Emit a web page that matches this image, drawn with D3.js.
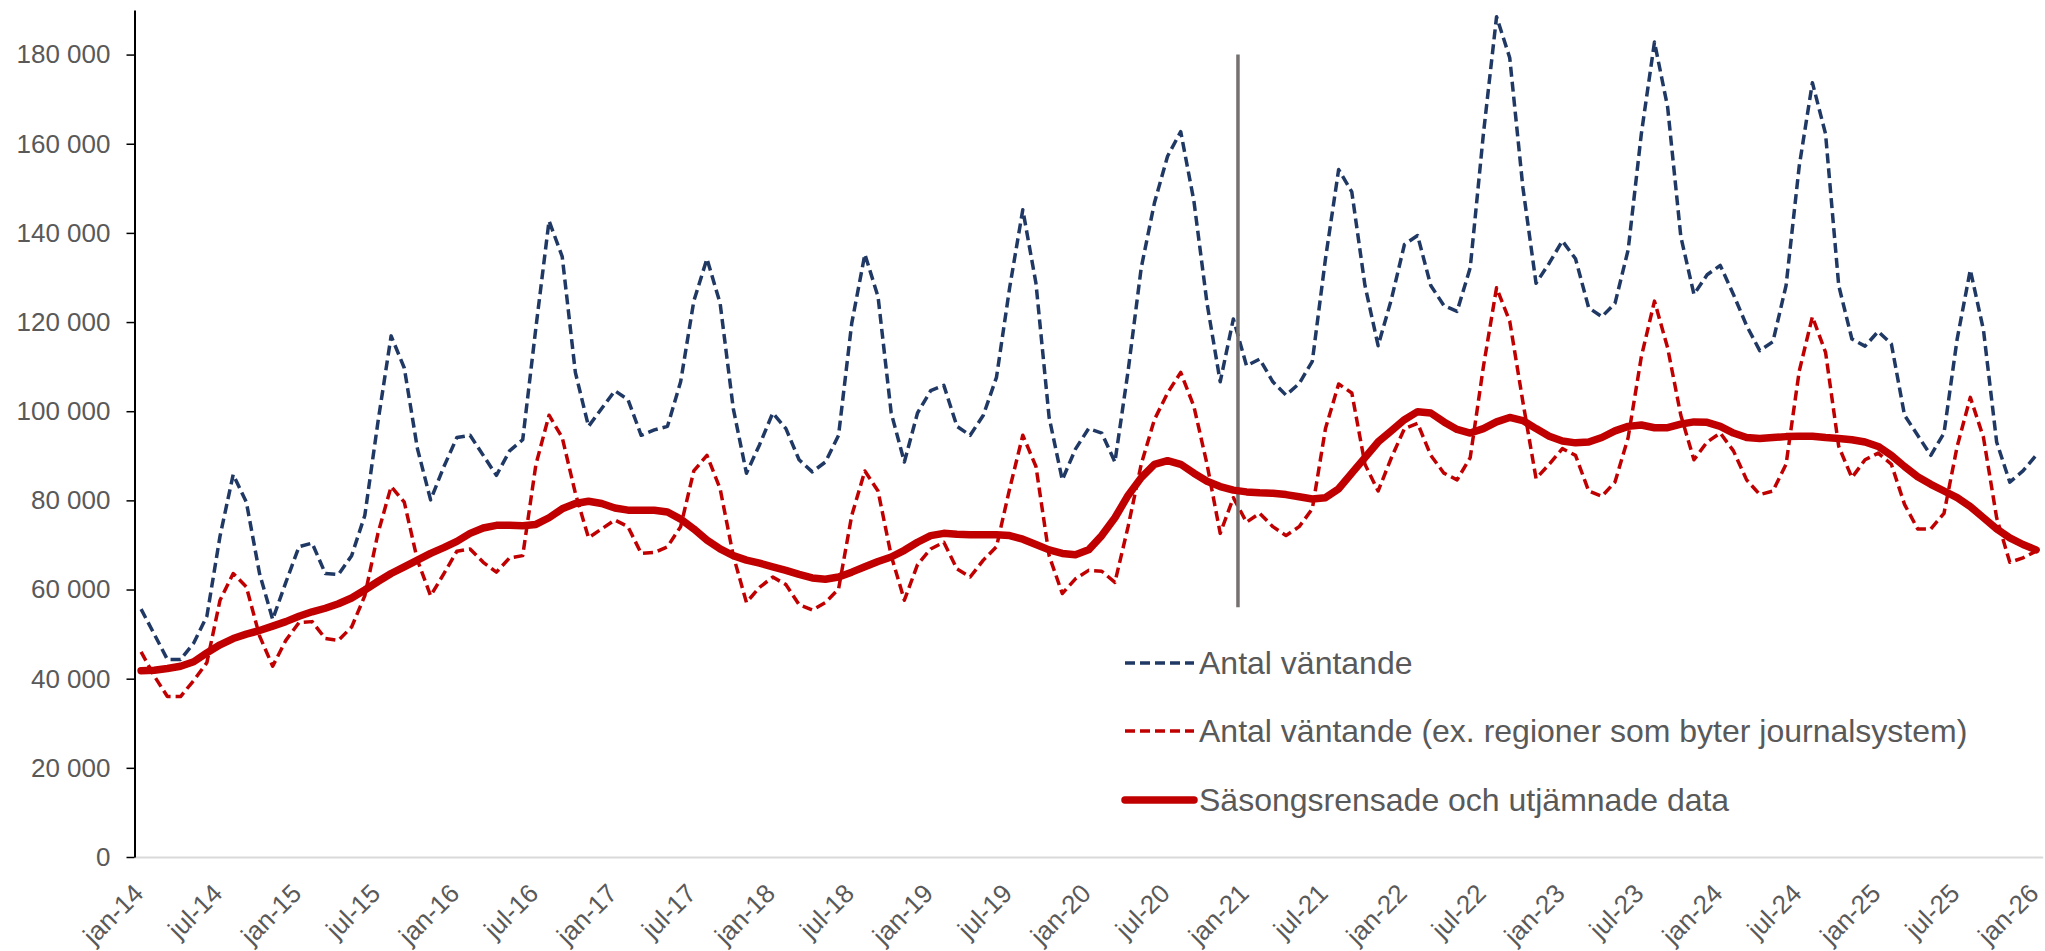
<!DOCTYPE html>
<html>
<head>
<meta charset="utf-8">
<script src="https://cdn.jsdelivr.net/npm/d3@7"></script>
<style>
  html, body { margin: 0; padding: 0; background: #ffffff; }
  svg { display: block; }
  text { font-family: "Liberation Sans", Arial, sans-serif; fill: #595959; }
</style>
</head>
<body>
<svg id="chart" width="2045" height="951"></svg>
<script>
// ---------- DATA ----------
const monthNames = ["jan","feb","mar","apr","maj","jun","jul","aug","sep","okt","nov","dec"];
const years = ["14","15","16","17","18","19","20","21","22","23","24","25","26"];

// Antal väntande (thousands)
const antalVantande = [
  55.6, 50.0, 44.3, 44.3, 48.0, 54.0, 72.0, 85.8, 79.6, 63.6, 53.3, 61.6,
  69.6, 70.4, 63.6, 63.4, 67.6, 76.6, 97.6, 116.9, 109.7, 91.6, 80.1, 87.5,
  94.1, 94.6, 90.1, 85.6, 91.1, 93.6, 118.7, 142.7, 134.7, 108.7, 96.6, 100.6,
  104.6, 102.6, 94.6, 95.8, 96.6, 106.6, 124.7, 134.2, 124.2, 100.6, 86.1, 92.5,
  99.6, 96.1, 89.1, 86.4, 88.6, 94.6, 119.7, 135.2, 125.7, 99.6, 88.6, 99.6,
  104.6, 105.8, 96.6, 94.6, 99.1, 107.6, 127.7, 145.2, 128.7, 98.6, 84.6, 91.5,
  96.1, 95.1, 88.6, 109.0, 132.2, 146.7, 157.2, 162.7, 147.2, 124.2, 106.6, 120.7,
  110.2, 111.7, 106.6, 103.6, 106.2, 111.2, 134.2, 154.2, 149.2, 128.2, 114.7, 125.0,
  137.4, 139.4, 128.2, 123.7, 122.4, 132.2, 162.2, 188.5, 179.3, 150.2, 128.7, 133.2,
  138.2, 134.2, 123.2, 121.2, 124.2, 136.2, 162.2, 182.8, 168.2, 139.2, 126.2, 130.6,
  132.7, 126.2, 119.2, 113.6, 115.6, 128.2, 155.0, 173.7, 162.2, 128.2, 116.2, 114.6,
  117.9, 115.1, 99.1, 94.6, 90.1, 95.1, 116.2, 131.7, 118.2, 93.1, 84.1, 86.6,
  90.1
];

// Antal väntande (ex. regioner som byter journalsystem) (thousands)
const antalExRegioner = [
  46.0, 40.6, 36.0, 36.0, 39.6, 43.6, 57.6, 63.6, 60.6, 49.6, 42.8, 48.6,
  52.6, 52.8, 49.0, 48.6, 51.6, 58.6, 72.6, 83.1, 79.6, 66.6, 58.6, 63.5,
  68.6, 69.1, 66.1, 63.9, 67.1, 67.6, 88.0, 99.1, 94.1, 81.6, 71.6, 73.6,
  75.6, 74.1, 68.1, 68.3, 69.6, 74.1, 86.6, 90.1, 82.6, 67.6, 57.1, 60.5,
  62.8, 61.1, 56.6, 55.4, 57.1, 60.1, 76.6, 86.6, 82.1, 67.6, 57.6, 65.6,
  69.1, 70.6, 64.6, 62.8, 66.6, 69.6, 82.6, 94.6, 87.6, 67.6, 59.1, 62.4,
  64.3, 64.1, 61.6, 74.1, 88.1, 98.1, 104.1, 108.7, 101.1, 88.1, 72.6, 80.6,
  75.1, 77.1, 74.1, 72.1, 74.1, 78.1, 96.1, 106.1, 104.1, 88.1, 82.1, 89.5,
  96.1, 97.3, 90.1, 86.1, 84.6, 89.6, 110.0, 127.7, 120.2, 102.1, 84.9, 88.1,
  91.6, 90.1, 82.1, 80.9, 84.1, 94.1, 112.2, 124.7, 114.2, 99.1, 89.1, 93.1,
  95.1, 91.1, 84.6, 81.3, 82.1, 88.1, 109.0, 121.2, 113.2, 92.1, 85.1, 89.1,
  90.6, 88.1, 79.1, 73.6, 73.6, 77.1, 92.1, 103.1, 94.1, 76.1, 66.1, 67.1,
  68.6
];

// Säsongsrensade och utjämnade data (thousands)
const sasongsrensade = [
  41.8, 41.9, 42.3, 42.8, 43.8, 45.8, 47.6, 49.0, 50.0, 50.8, 51.8, 52.8,
  54.0, 55.0, 55.8, 56.8, 58.1, 59.9, 61.8, 63.6, 65.1, 66.6, 68.1, 69.4,
  70.8, 72.6, 73.8, 74.4, 74.4, 74.3, 74.6, 76.1, 78.1, 79.3, 79.8, 79.3,
  78.3, 77.8, 77.8, 77.8, 77.4, 75.8, 73.6, 71.1, 69.1, 67.6, 66.6, 65.9,
  65.1, 64.3, 63.4, 62.6, 62.3, 62.8, 63.9, 65.1, 66.3, 67.3, 68.8, 70.6,
  72.1, 72.6, 72.4, 72.3, 72.3, 72.3, 72.1, 71.3, 70.1, 68.9, 68.1, 67.8,
  68.9, 72.1, 76.1, 81.1, 85.1, 88.1, 88.9, 88.1, 86.1, 84.3, 83.1, 82.3,
  81.9, 81.7, 81.6, 81.3, 80.8, 80.3, 80.6, 82.6, 86.1, 89.6, 93.1, 95.6,
  98.1, 99.9, 99.6, 97.6, 95.9, 95.1, 96.1, 97.6, 98.6, 97.9, 96.1, 94.4,
  93.3, 92.9, 93.1, 94.1, 95.6, 96.6, 96.9, 96.3, 96.3, 97.1, 97.6, 97.5,
  96.6, 95.1, 94.1, 93.9, 94.1, 94.3, 94.4, 94.4, 94.1, 93.9, 93.6, 93.1,
  92.1, 90.1, 87.6, 85.3, 83.6, 82.1, 80.6, 78.6, 76.1, 73.6, 71.6, 70.1,
  68.9
];

const yTicks = [0, 20000, 40000, 60000, 80000, 100000, 120000, 140000, 160000, 180000];
const yMax = 190000;

// Vertical marker (between dec-20 and jan-21)
const markerMonthIndex = 83.35;
const markerRange = [56000, 180000];

const legendLabels = [
  "Antal väntande",
  "Antal väntande (ex. regioner som byter journalsystem)",
  "Säsongsrensade och utjämnade data"
];

// ---------- BUILD ----------
const categories = [];
years.forEach(y => monthNames.forEach(m => categories.push(m + "-" + y)));
categories.length = antalVantande.length; // jan-14 .. jan-26
const tickLabels = categories.filter((c, i) => i % 6 === 0);

const toRows = arr => arr.map((v, i) => ({ cat: categories[i], idx: i, value: v * 1000 }));
const seriesBlue = toRows(antalVantande);
const seriesRedDash = toRows(antalExRegioner);
const seriesSmooth = toRows(sasongsrensade);

const svg = d3.select("#chart");

const plotLeft = 134.5, plotRight = 2042.7, plotTop = 10, plotBottom = 857;

const x = d3.scalePoint().domain(categories).range([plotLeft, plotRight]).padding(0.5);
const y = d3.scaleLinear().domain([0, yMax]).range([plotBottom, plotTop]);
const xIdx = d3.scaleLinear().domain([0, categories.length - 1])
  .range([x(categories[0]), x(categories[categories.length - 1])]);

const loc = d3.formatLocale({ decimal: ",", thousands: " ", grouping: [3], currency: ["", " kr"] });
const fmt = loc.format(",d");

// X axis (light gray line)
const xAxisG = svg.append("g").attr("transform", `translate(0,${plotBottom})`)
  .call(d3.axisBottom(x).tickValues(tickLabels).tickSize(0).tickFormat(() => ""));
xAxisG.select(".domain").attr("stroke", "#d9d9d9").attr("stroke-width", 2);

// X tick labels rotated
svg.append("g").selectAll("text").data(tickLabels).join("text")
  .attr("transform", d => `translate(${x(d) + 4},${plotBottom + 38}) rotate(-45)`)
  .attr("text-anchor", "end")
  .style("font-size", "26px")
  .text(d => d);

// Y axis
const yAxisG = svg.append("g").attr("transform", `translate(${plotLeft},0)`)
  .call(d3.axisLeft(y).tickValues(yTicks).tickSize(8).tickPadding(16).tickFormat(fmt).tickSizeOuter(0));
yAxisG.select(".domain").attr("stroke", "#000").attr("stroke-width", 2);
yAxisG.selectAll(".tick line").attr("stroke", "#000").attr("stroke-width", 1.5);
yAxisG.selectAll(".tick text").style("font-size", "26px").attr("fill", "#595959")
  .style("font-family", "'Liberation Sans', Arial, sans-serif");

// Lines
const line = d3.line().x(d => x(d.cat)).y(d => y(d.value));

svg.append("path").datum(seriesBlue)
  .attr("fill", "none").attr("stroke", "#1f3864").attr("stroke-width", 3.5)
  .attr("stroke-dasharray", "10,5").attr("stroke-linejoin", "round")
  .attr("d", line);

svg.append("path").datum(seriesRedDash)
  .attr("fill", "none").attr("stroke", "#c00000").attr("stroke-width", 3.5)
  .attr("stroke-dasharray", "10,5").attr("stroke-linejoin", "round")
  .attr("d", line);

// Vertical marker line
svg.append("line")
  .attr("x1", xIdx(markerMonthIndex)).attr("x2", xIdx(markerMonthIndex))
  .attr("y1", y(markerRange[0])).attr("y2", y(markerRange[1]))
  .attr("stroke", "#767171").attr("stroke-width", 3.5);

svg.append("path").datum(seriesSmooth)
  .attr("fill", "none").attr("stroke", "#c00000").attr("stroke-width", 7.5)
  .attr("stroke-linejoin", "round").attr("stroke-linecap", "round")
  .attr("d", line);

// Legend
const legendStyles = [
  { stroke: "#1f3864", width: 3.5, dash: "10,5", cap: "butt" },
  { stroke: "#c00000", width: 3.5, dash: "10,5", cap: "butt" },
  { stroke: "#c00000", width: 7.5, dash: null, cap: "round" }
];
const legendRowsY = [663, 731, 800];
const lg = svg.append("g");
legendLabels.forEach((lab, i) => {
  const s = legendStyles[i];
  lg.append("line").attr("x1", 1125).attr("x2", 1194)
    .attr("y1", legendRowsY[i]).attr("y2", legendRowsY[i])
    .attr("stroke", s.stroke).attr("stroke-width", s.width)
    .attr("stroke-dasharray", s.dash).attr("stroke-linecap", s.cap);
  lg.append("text").attr("x", 1199).attr("y", legendRowsY[i]).attr("dy", "0.35em")
    .style("font-size", "32px").text(lab);
});
</script>
</body>
</html>
